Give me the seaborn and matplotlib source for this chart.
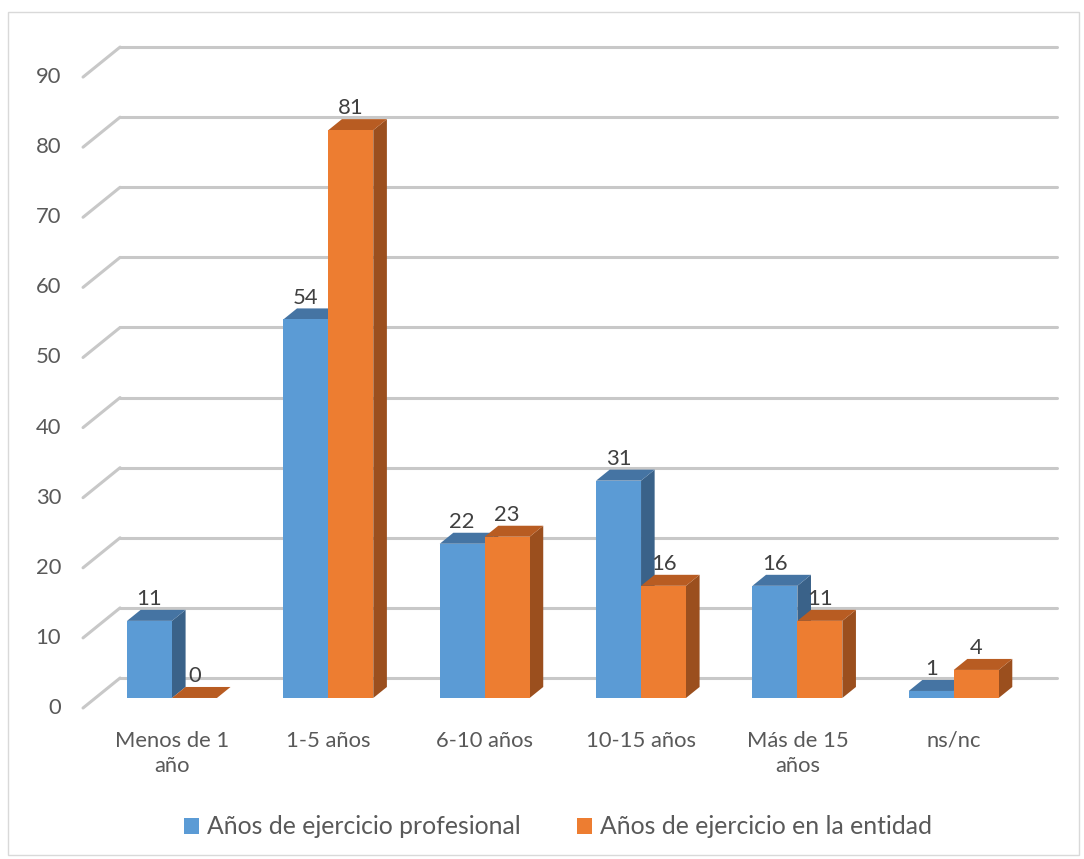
import matplotlib
matplotlib.use("Agg")
import matplotlib.pyplot as plt
from matplotlib.patches import Polygon, Rectangle, Patch
import numpy as np
import pandas as pd
import seaborn as sns

categories = ["Menos de 1\naño", "1-5 años", "6-10 años", "10-15 años", "Más de 15\naños", "ns/nc"]
series_names = ["Años de ejercicio profesional", "Años de ejercicio en la entidad"]
profesional = [11, 54, 22, 31, 16, 1]
entidad = [0, 81, 23, 16, 11, 4]
y_ticks = [0, 10, 20, 30, 40, 50, 60, 70, 80, 90]

front_colors = ["#5B9BD5", "#ED7D31"]
top_colors = ["#4574A3", "#B85C22"]
side_colors = ["#3A6289", "#9B4F1E"]
text_color = "#595959"
grid_color = "#C8C8C8"

# oblique depth projection, expressed in data units
BAR_DX, BAR_DY = 0.087, 1.57       # depth of each bar
WALL_DX, WALL_DY = 0.158, 2.85     # back wall relative to bar fronts
FRONT_DX, FRONT_DY = -0.079, -1.43  # front edge of the floor
GRID_X0, GRID_X1 = -0.49, 5.50

FS = 15.8

sns.set_theme(style="white")
plt.rcParams["font.family"] = ["Lato", "DejaVu Sans"]

W, H = 1084, 859
fig = plt.figure(figsize=(W / 100, H / 100), dpi=100)
ax = fig.add_axes([0, (H - 712) / H, 1071 / W, (712 - 32) / H])

df = pd.DataFrame({
    "cat": categories * 2,
    "val": profesional + entidad,
    "serie": [series_names[0]] * len(categories) + [series_names[1]] * len(categories),
})
sns.barplot(data=df, x="cat", y="val", hue="serie", palette=front_colors,
            width=0.575, saturation=1, dodge=True, legend=False, ax=ax,
            linewidth=0, errorbar=None)

ax.set_xlim(-1.1, 5.75)
ax.set_ylim(-2.0, 95)

# back wall gridlines with the slanted left edge
for v in y_ticks:
    ax.plot([GRID_X0 + WALL_DX, GRID_X1 + WALL_DX], [v + WALL_DY, v + WALL_DY],
            color=grid_color, lw=2.2, zorder=0.5, solid_capstyle="round")
    ax.plot([GRID_X0 + FRONT_DX, GRID_X0 + WALL_DX], [v + FRONT_DY, v + WALL_DY],
            color=grid_color, lw=2.2, zorder=0.5, solid_capstyle="round")
    ax.text(-0.71, v + FRONT_DY, str(v), ha="right", va="center",
            fontsize=FS, color=text_color)

# give the bars their top and side faces, painting left to right
bars = []
for k, container in enumerate(ax.containers):
    for patch, val in zip(container.patches, container.datavalues):
        bars.append((patch.get_x(), k, patch, val))
bars.sort(key=lambda b: b[0])

z = 2.0
for x0, k, patch, val in bars:
    w = patch.get_width()
    h = patch.get_height()
    side = Polygon([(x0 + w, 0), (x0 + w + BAR_DX, BAR_DY),
                    (x0 + w + BAR_DX, h + BAR_DY), (x0 + w, h)],
                   closed=True, fc=side_colors[k], ec="none", zorder=z)
    top = Polygon([(x0, h), (x0 + BAR_DX, h + BAR_DY),
                   (x0 + w + BAR_DX, h + BAR_DY), (x0 + w, h)],
                  closed=True, fc=top_colors[k], ec="none", zorder=z + 0.1)
    ax.add_patch(side)
    ax.add_patch(top)
    patch.set_zorder(z + 0.2)
    ax.text(x0 + w / 2, h + 3.1, f"{val:g}", ha="center", va="center",
            fontsize=FS, color="#404040", zorder=10)
    z += 1

ax.set_xticks(range(len(categories)))
ax.set_xticklabels(categories, fontsize=FS, color=text_color, linespacing=1.3)
ax.tick_params(axis="x", length=0, pad=13.5)
ax.set_yticks([])
ax.set_xlabel("")
ax.set_ylabel("")
for s in ax.spines.values():
    s.set_visible(False)
ax.patch.set_alpha(0)

handles = [Patch(fc=c, ec="none") for c in front_colors]
fig.legend(handles, series_names, loc="center",
           bbox_to_anchor=(0.5 + 16 / W, 1 - 827 / H),
           ncol=2, frameon=False, fontsize=17.8, labelcolor=text_color,
           handlelength=0.6, handleheight=0.6, handletextpad=0.3, columnspacing=2.3)

fig.add_artist(Rectangle((8 / W, 4 / H), (1079 - 8) / W, (855 - 12) / H,
                         transform=fig.transFigure, fill=False, ec="#D9D9D9", lw=1))

fig.savefig("out.png", dpi=100)
